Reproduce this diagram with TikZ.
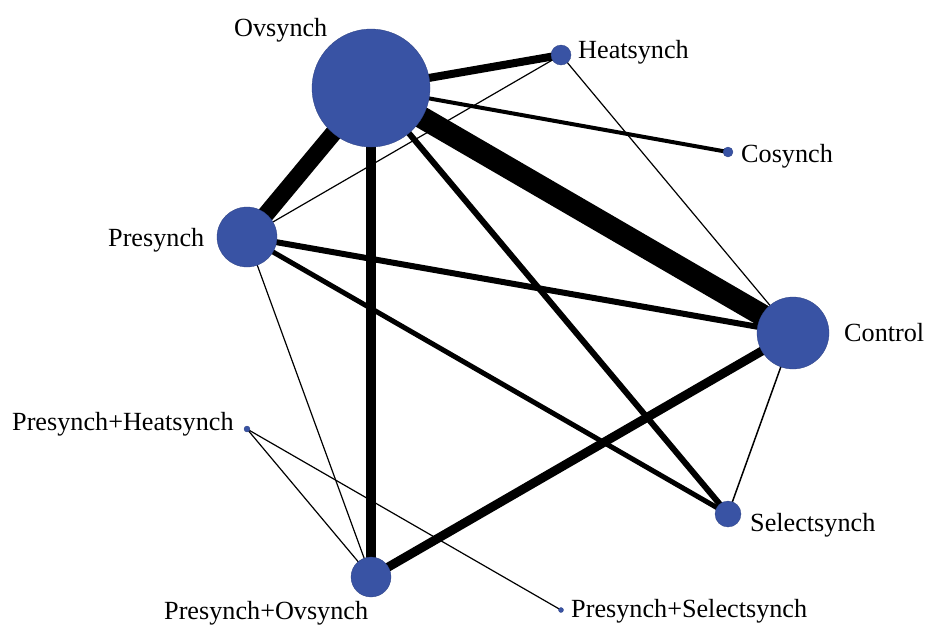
\documentclass[tikz,border=0pt]{standalone}
\usepackage{fontspec}
\setmainfont{Liberation Serif}
\usetikzlibrary{backgrounds}
\definecolor{nodeblue}{HTML}{3953A4}
\begin{document}
\begin{tikzpicture}[x=1pt,y=-1pt,
  trt/.style={circle,fill=nodeblue,draw=nodeblue!80!black,line width=0.3pt,inner sep=0pt},
  lbl/.style={font=\fontsize{26.2}{26.2}\selectfont,inner sep=0pt,anchor=base west},
  edge/.style={draw=black}]
\useasboundingbox (0,0) rectangle (925,625);
% treatment nodes
\node[trt,minimum size=118] (ov) at (371,88) {};
\node[trt,minimum size=20] (heat) at (561,55) {};
\node[trt,minimum size=10] (co) at (728,152) {};
\node[trt,minimum size=60] (pre) at (247,237) {};
\node[trt,minimum size=72] (ctrl) at (793,333) {};
\node[trt,minimum size=6] (ph) at (247,429) {};
\node[trt,minimum size=26] (sel) at (728,514) {};
\node[trt,minimum size=40] (po) at (371,577) {};
\node[trt,minimum size=5] (ps) at (561,610) {};
% edges (behind nodes)
\begin{scope}[on background layer]
\draw[edge,line width=22] (ov.center) -- (ctrl.center);
\draw[edge,line width=17] (ov.center) -- (pre.center);
\draw[edge,line width=8] (ov.center) -- (heat.center);
\draw[edge,line width=4] (ov.center) -- (co.center);
\draw[edge,line width=10] (ov.center) -- (po.center);
\draw[edge,line width=6] (ov.center) -- (sel.center);
\draw[edge,line width=1.2] (heat.center) -- (pre.center);
\draw[edge,line width=1.2] (heat.center) -- (ctrl.center);
\draw[edge,line width=6] (pre.center) -- (ctrl.center);
\draw[edge,line width=5] (pre.center) -- (sel.center);
\draw[edge,line width=1.2] (pre.center) -- (po.center);
\draw[edge,line width=9] (ctrl.center) -- (po.center);
\draw[edge,line width=1.5] (ctrl.center) -- (sel.center);
\draw[edge,line width=1.2] (ph.center) -- (po.center);
\draw[edge,line width=1.2] (ph.center) -- (ps.center);
\end{scope}
% labels
\node[lbl] (lov) at (234,36) {Ovsynch};
\node[lbl] (lheat) at (578,58) {Heatsynch};
\node[lbl] (lco) at (741,162) {Cosynch};
\node[lbl] (lpre) at (108,246) {Presynch};
\node[lbl] (lctrl) at (844,341) {Control};
\node[lbl] (lph) at (12,430) {Presynch+Heatsynch};
\node[lbl] (lsel) at (750,531) {Selectsynch};
\node[lbl] (lpo) at (164,619) {Presynch+Ovsynch};
\node[lbl] (lps) at (571,617) {Presynch+Selectsynch};
\end{tikzpicture}
\end{document}
